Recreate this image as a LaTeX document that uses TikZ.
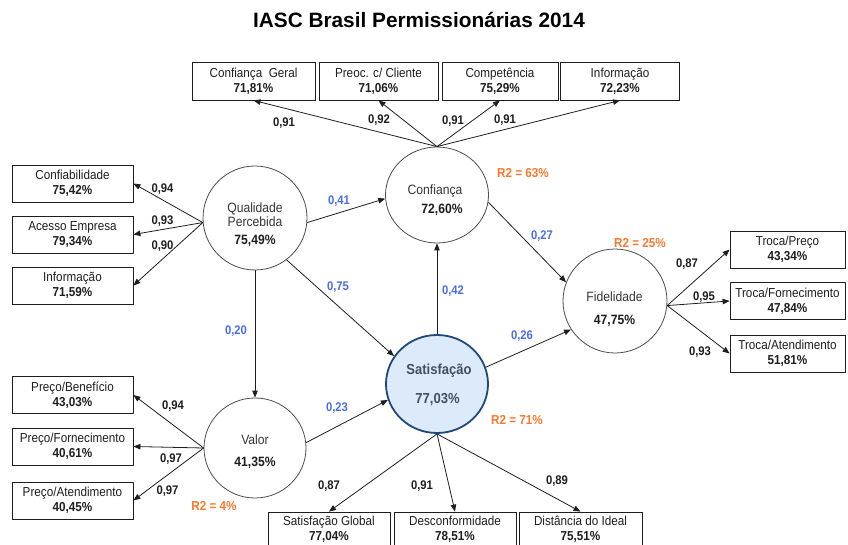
\documentclass[tikz,border=0pt]{standalone}
\usepackage{fontspec}
\setmainfont{Liberation Sans}[FakeStretch=0.9]
\newfontfamily\titlefont{Liberation Sans}
\usetikzlibrary{shapes.geometric,arrows.meta}
\definecolor{pblue}{RGB}{74,108,235}
\definecolor{rorange}{RGB}{250,120,45}
\definecolor{satfill}{RGB}{220,234,250}
\definecolor{satdraw}{RGB}{31,73,125}
\definecolor{sattext}{RGB}{68,80,96}
\definecolor{ink}{RGB}{30,30,30}
\begin{document}
\begin{tikzpicture}[x=1pt,y=-1pt,
  lv/.style={ellipse, draw=black!70, line width=0.8pt, inner sep=0pt},
  ind/.style={draw=ink, line width=0.8pt, minimum width=121pt, minimum height=37pt,
    inner sep=0pt, align=center, text=ink, font=\fontsize{13}{15}\selectfont},
  arr/.style={draw=ink, line width=0.8pt, -{Triangle[length=7pt,width=5.5pt]}},
  txt/.style={inner sep=0pt, text height=9pt, text depth=0pt},
  lvtext/.style={txt, text=ink!90, font=\fontsize{13.5}{15}\selectfont},
  lvpct/.style={txt, text=ink, font=\fontsize{13.5}{15}\selectfont\bfseries},
  coef/.style={txt, text=ink, font=\fontsize{12.5}{15}\selectfont\bfseries},
  pcoef/.style={txt, text=pblue, font=\fontsize{12.5}{15}\selectfont\bfseries},
  rsq/.style={txt, text=rorange, font=\fontsize{13}{15}\selectfont\bfseries},
  titlestyle/.style={inner sep=0pt, font=\titlefont\fontsize{20.8}{24}\selectfont\bfseries}
]
\useasboundingbox (0,0) rectangle (848,545);

\node[titlestyle] (title) at (419,20) {IASC Brasil Permissionárias 2014};

% latent variables
\node[lv, minimum width=104pt, minimum height=104pt] (qual) at (255,218) {};
\node[lv, minimum width=103pt, minimum height=96pt] (conf) at (437,195) {};
\node[lv, minimum width=102pt, minimum height=100pt] (val) at (255,448) {};
\node[lv, minimum width=104pt, minimum height=104pt] (fid) at (615,301) {};
\node[lv, fill=satfill, draw=satdraw, line width=1.8pt, minimum width=102pt, minimum height=98pt] (sat) at (437,384) {};

\node[lvtext] (qual-a) at (255,208) {Qualidade};
\node[lvtext] (qual-b) at (255,222) {Percebida};
\node[lvpct] (qual-c) at (255,240) {75,49\%};
\node[lvtext] (conf-a) at (435,190) {Confiança};
\node[lvpct] (conf-b) at (442,209) {72,60\%};
\node[lvtext] (val-a) at (255,440) {Valor};
\node[lvpct] (val-b) at (255,462) {41,35\%};
\node[lvtext] (fid-a) at (614.5,297) {Fidelidade};
\node[lvpct] (fid-b) at (614.5,320) {47,75\%};
\node[txt, text=sattext, font=\fontsize{14.5}{16}\selectfont\bfseries] (sat-a) at (439,370) {Satisfação};
\node[txt, text=sattext, font=\fontsize{14.5}{16}\selectfont\bfseries] (sat-b) at (437.5,399) {77,03\%};

% indicators top
\node[ind, minimum width=123pt, minimum height=38pt] (tb1) at (253.5,81) {Confiança\ \ Geral\\\textbf{71,81\%}};
\node[ind, minimum width=119pt, minimum height=38pt] (tb2) at (378.5,81) {Preoc. c/ Cliente\\\textbf{71,06\%}};
\node[ind, minimum width=116pt, minimum height=38pt] (tb3) at (500,81) {Competência\\\textbf{75,29\%}};
\node[ind, minimum width=119pt, minimum height=38pt] (tb4) at (620,81) {Informação\\\textbf{72,23\%}};

% indicators left
\node[ind] (lb1) at (72.5,183.5) {Confiabilidade\\\textbf{75,42\%}};
\node[ind] (lb2) at (72.5,234.5) {Acesso Empresa\\\textbf{79,34\%}};
\node[ind] (lb3) at (72.5,285.5) {Informação\\\textbf{71,59\%}};
\node[ind] (lb4) at (72.5,395) {Preço/Benefício\\\textbf{43,03\%}};
\node[ind] (lb5) at (72.5,446.5) {Preço/Fornecimento\\\textbf{40,61\%}};
\node[ind] (lb6) at (72.5,500.5) {Preço/Atendimento\\\textbf{40,45\%}};

% indicators right
\node[ind, minimum width=115pt] (rb1) at (787.5,249.5) {Troca/Preço\\\textbf{43,34\%}};
\node[ind, minimum width=115pt] (rb2) at (787.5,301) {Troca/Fornecimento\\\textbf{47,84\%}};
\node[ind, minimum width=115pt] (rb3) at (787.5,353.5) {Troca/Atendimento\\\textbf{51,81\%}};

% indicators bottom
\node[ind, minimum width=122pt, minimum height=34pt] (bb1) at (329,529) {Satisfação Global\\\textbf{77,04\%}};
\node[ind, minimum width=122pt, minimum height=34pt] (bb2) at (455,529) {Desconformidade\\\textbf{78,51\%}};
\node[ind, minimum width=123pt, minimum height=34pt] (bb3) at (580.5,529) {Distância do Ideal\\\textbf{75,51\%}};

% measurement arrows
\foreach \b in {tb1,tb2,tb3,tb4} \draw[arr] (conf.north) -- (\b.south);
\foreach \b in {lb1,lb2,lb3} \draw[arr] (qual.185) -- (\b.east);
\foreach \b in {lb4,lb5,lb6} \draw[arr] (val.west) -- (\b.east);
\foreach \b in {rb1,rb2,rb3} \draw[arr] (fid.355) -- (\b.west);
\foreach \b in {bb1,bb2,bb3} \draw[arr] (sat.south) -- (\b.north);

% structural arrows
\draw[arr] (qual.355) -- (conf.184);
\draw[arr] (qual.307) -- (sat.147);
\draw[arr] (qual.south) -- (val.north);
\draw[arr] (val.6) -- (sat.198);
\draw[arr] (sat.north) -- (conf.south);
\draw[arr] (sat.19) -- (fid.213);
\draw[arr] (conf.352) -- (fid.159);

% loadings
\node[coef] (c1) at (284,122) {0,91};
\node[coef] (c2) at (379,119) {0,92};
\node[coef] (c3) at (453,120) {0,91};
\node[coef] (c4) at (505,119) {0,91};
\node[coef] (c5) at (162.5,188) {0,94};
\node[coef] (c6) at (162.5,220) {0,93};
\node[coef] (c7) at (162.5,245) {0,90};
\node[coef] (c8) at (173,405) {0,94};
\node[coef] (c9) at (171,458) {0,97};
\node[coef] (c10) at (167.5,489.5) {0,97};
\node[coef] (c11) at (687,263) {0,87};
\node[coef] (c12) at (704,296) {0,95};
\node[coef] (c13) at (700,351) {0,93};
\node[coef] (c14) at (329,485) {0,87};
\node[coef] (c15) at (422,485) {0,91};
\node[coef] (c16) at (557,480) {0,89};

% path coefficients
\node[pcoef] (p1) at (339,200) {0,41};
\node[pcoef] (p2) at (338,286) {0,75};
\node[pcoef] (p3) at (453,290) {0,42};
\node[pcoef] (p4) at (542,235) {0,27};
\node[pcoef] (p5) at (522,335) {0,26};
\node[pcoef] (p6) at (236,330) {0,20};
\node[pcoef] (p7) at (337,407) {0,23};

% R2
\node[rsq] (r1) at (523,173) {R2 = 63\%};
\node[rsq] (r2) at (640,243) {R2 = 25\%};
\node[rsq] (r3) at (517,420) {R2 = 71\%};
\node[rsq] (r4) at (214,506) {R2 = 4\%};
\end{tikzpicture}
\end{document}
